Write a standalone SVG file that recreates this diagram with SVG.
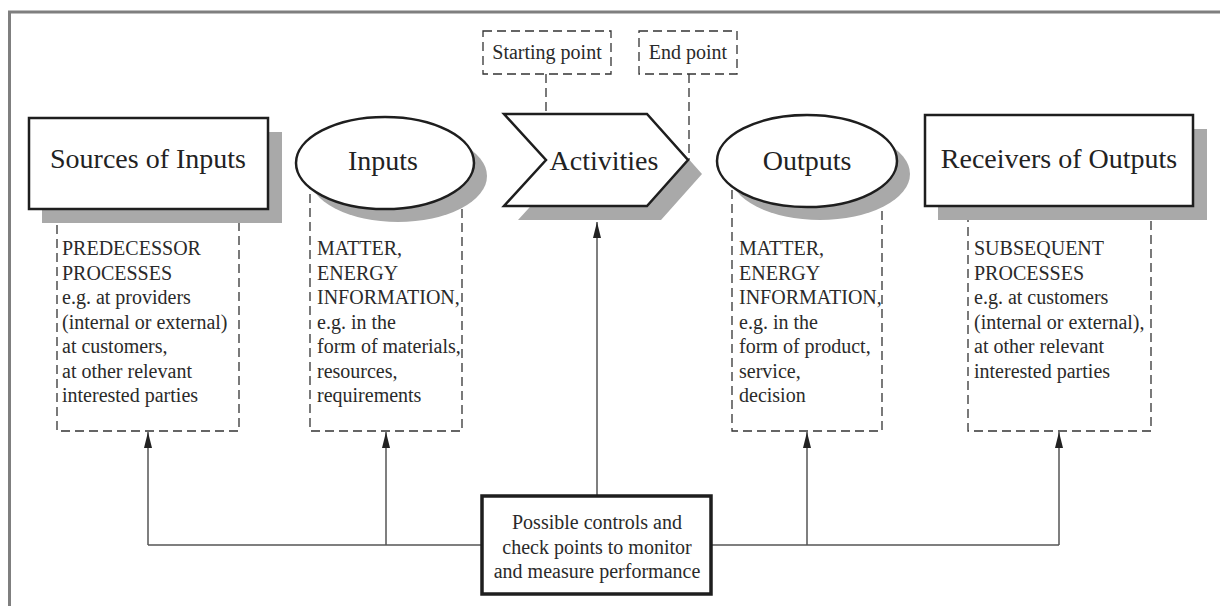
<svg xmlns="http://www.w3.org/2000/svg" width="1220" height="606" viewBox="0 0 1220 606">
<defs>
<style>
.title{font-family:"Liberation Serif","Times New Roman",serif;font-size:28px;fill:#222;text-anchor:middle}
.body{font-family:"Liberation Serif","Times New Roman",serif;font-size:20px;fill:#2a2a2a}
.small{font-family:"Liberation Serif","Times New Roman",serif;font-size:20px;fill:#2a2a2a;text-anchor:middle}
.shadow{fill:#a9a9a9;stroke:none}
.main{fill:#fff;stroke:#1e1e1e;stroke-width:2.5}
.dash{fill:#fff;stroke:#333;stroke-width:1.3;stroke-dasharray:9 5}
.dashl{fill:none;stroke:#333;stroke-width:1.3;stroke-dasharray:9 5}
.conn{fill:none;stroke:#555;stroke-width:1.5}
</style>
<marker id="arr" markerUnits="userSpaceOnUse" markerWidth="16" markerHeight="8" refX="16" refY="4" orient="auto" viewBox="0 0 16 8">
<path d="M0,0 L16,4 L0,8 Z" fill="#222"/>
</marker>
</defs>
<rect x="0" y="0" width="1220" height="606" fill="#fff"/>
<g id="frame">
<line x1="8" y1="12" x2="1220" y2="12" stroke="#7f7f7f" stroke-width="3"/>
<line x1="9.5" y1="12" x2="9.5" y2="606" stroke="#7f7f7f" stroke-width="3"/>
</g>
<g id="detail-sources">
<rect class="dash" x="57" y="180" width="182" height="251"/>
<text class="body"><tspan x="62" y="255">PREDECESSOR</tspan><tspan x="62" y="279.5">PROCESSES</tspan><tspan x="62" y="304">e.g. at providers</tspan><tspan x="62" y="328.5">(internal or external)</tspan><tspan x="62" y="353">at customers,</tspan><tspan x="62" y="377.5">at other relevant</tspan><tspan x="62" y="402">interested parties</tspan></text>
</g>
<g id="detail-inputs">
<rect class="dash" x="310" y="165" width="152" height="266"/>
<text class="body"><tspan x="317" y="255">MATTER,</tspan><tspan x="317" y="279.5">ENERGY</tspan><tspan x="317" y="304">INFORMATION,</tspan><tspan x="317" y="328.5">e.g. in the</tspan><tspan x="317" y="353">form of materials,</tspan><tspan x="317" y="377.5">resources,</tspan><tspan x="317" y="402">requirements</tspan></text>
</g>
<g id="detail-outputs">
<rect class="dash" x="732" y="165" width="150" height="266"/>
<text class="body"><tspan x="739" y="255">MATTER,</tspan><tspan x="739" y="279.5">ENERGY</tspan><tspan x="739" y="304">INFORMATION,</tspan><tspan x="739" y="328.5">e.g. in the</tspan><tspan x="739" y="353">form of product,</tspan><tspan x="739" y="377.5">service,</tspan><tspan x="739" y="402">decision</tspan></text>
</g>
<g id="detail-receivers">
<rect class="dash" x="968" y="180" width="183" height="251"/>
<text class="body"><tspan x="974" y="255">SUBSEQUENT</tspan><tspan x="974" y="279.5">PROCESSES</tspan><tspan x="974" y="304">e.g. at customers</tspan><tspan x="974" y="328.5">(internal or external),</tspan><tspan x="974" y="353">at other relevant</tspan><tspan x="974" y="377.5">interested parties</tspan></text>
</g>
<g id="connectors">
<path class="dashl" d="M546,74 V160"/>
<path class="dashl" d="M689,74 V160"/>
<path class="conn" d="M148,545 H481"/>
<path class="conn" d="M712,545 H1059"/>
<path class="conn" d="M148,545 V432" marker-end="url(#arr)"/>
<path class="conn" d="M386,545 V432" marker-end="url(#arr)"/>
<path class="conn" d="M807,545 V432" marker-end="url(#arr)"/>
<path class="conn" d="M1059,545 V432" marker-end="url(#arr)"/>
<path class="conn" d="M597,495 V222" marker-end="url(#arr)"/>
</g>
<g id="sources">
<rect class="shadow" x="42" y="132" width="240" height="91"/>
<rect class="main" x="29" y="118" width="239" height="91"/>
<text class="title" x="148" y="168">Sources of Inputs</text>
</g>
<g id="inputs">
<ellipse class="shadow" cx="398" cy="176" rx="89" ry="46"/>
<ellipse class="main" cx="385" cy="163" rx="89" ry="46" stroke-width="2.2"/>
<text class="title" x="383" y="170">Inputs</text>
</g>
<g id="activities">
<polygon class="shadow" points="518,128 661,128 702,174 661,220 518,220 560,174"/>
<polygon class="main" points="504,114 647,114 688,160 647,206 504,206 546,160"/>
<text class="title" x="604" y="170">Activities</text>
</g>
<g id="outputs">
<ellipse class="shadow" cx="820" cy="174" rx="90" ry="46"/>
<ellipse class="main" cx="807" cy="161" rx="90" ry="46" stroke-width="2.2"/>
<text class="title" x="807" y="170">Outputs</text>
</g>
<g id="receivers">
<rect class="shadow" x="938" y="129" width="269" height="91"/>
<rect class="main" x="925" y="115" width="268" height="91"/>
<text class="title" x="1059" y="168">Receivers of Outputs</text>
</g>
<g id="starting-point">
<rect class="dash" x="483" y="31" width="128" height="43"/>
<text class="small" x="547" y="59">Starting point</text>
</g>
<g id="end-point">
<rect class="dash" x="639" y="31" width="98" height="43"/>
<text class="small" x="688" y="59">End point</text>
</g>
<g id="controls">
<rect x="482" y="496" width="229" height="98" fill="#fff" stroke="#1e1e1e" stroke-width="3.5"/>
<text class="small"><tspan x="597" y="529">Possible controls and</tspan><tspan x="597" y="553.5">check points to monitor</tspan><tspan x="597" y="578">and measure performance</tspan></text>
</g>
</svg>
